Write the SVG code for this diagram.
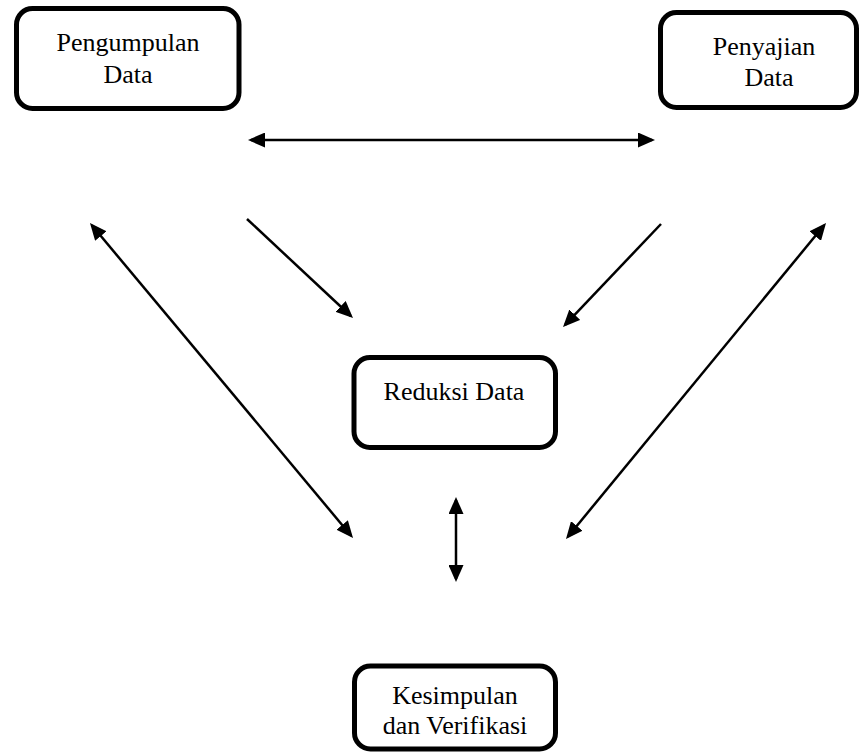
<svg xmlns="http://www.w3.org/2000/svg" width="859" height="752" viewBox="0 0 859 752">
<style>
.box{fill:#fff;stroke:#000;stroke-width:5}
.lbl{font-family:"Liberation Serif","Times New Roman",serif;font-size:26px;fill:#000;text-anchor:middle}
.conn line{stroke:#000;stroke-width:2.5}
</style>
<defs>
<marker id="ah" viewBox="0 0 17 15" refX="14" refY="7.5" markerWidth="17" markerHeight="15" markerUnits="userSpaceOnUse" orient="auto-start-reverse">
<path d="M0,0 L17,7.5 L0,15 z" fill="#000"/>
</marker>
</defs>
<rect width="859" height="752" fill="#fff"/>
<g id="pengumpulan">
<rect class="box" x="16.5" y="8.5" width="222.5" height="100" rx="16"/>
<text class="lbl" x="128" y="51">Pengumpulan</text>
<text class="lbl" x="128" y="83">Data</text>
</g>
<g id="penyajian">
<rect class="box" x="660.5" y="12.5" width="196" height="95" rx="16"/>
<text class="lbl" x="764" y="55">Penyajian</text>
<text class="lbl" x="769" y="86">Data</text>
</g>
<g id="reduksi">
<rect class="box" x="354" y="357.5" width="201.5" height="90" rx="16"/>
<text class="lbl" x="454" y="400">Reduksi Data</text>
</g>
<g id="kesimpulan">
<rect class="box" x="354.5" y="666" width="201" height="83" rx="16"/>
<text class="lbl" x="455" y="704">Kesimpulan</text>
<text class="lbl" x="455" y="734">dan Verifikasi</text>
</g>
<g class="conn" id="connectors">
<line x1="251" y1="140" x2="652" y2="140" marker-start="url(#ah)" marker-end="url(#ah)"/>
<line x1="456" y1="500" x2="456" y2="579" marker-start="url(#ah)" marker-end="url(#ah)"/>
<line x1="247" y1="219" x2="350.8" y2="316" marker-end="url(#ah)"/>
<line x1="661" y1="224" x2="565.1" y2="324.8" marker-end="url(#ah)"/>
<line x1="91.9" y1="225.3" x2="351.1" y2="535.7" marker-start="url(#ah)" marker-end="url(#ah)"/>
<line x1="824.1" y1="225.3" x2="567.9" y2="536.7" marker-start="url(#ah)" marker-end="url(#ah)"/>
</g>
</svg>
